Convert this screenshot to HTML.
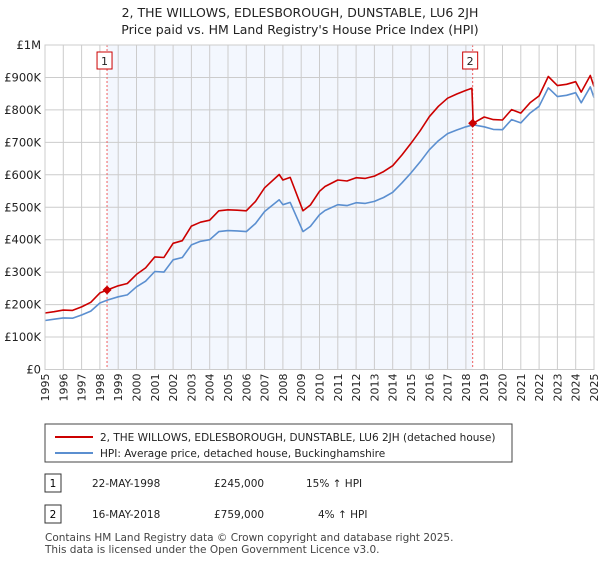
<!DOCTYPE html>
<html><head><meta charset="utf-8"><style>
body{margin:0;background:#fff;font-family:"Liberation Sans","DejaVu Sans",sans-serif;}
svg text{font-family:"DejaVu Sans","Liberation Sans",sans-serif;}
</style></head><body>
<svg width="600" height="560" viewBox="0 0 600 560">
<text x="300" y="17" text-anchor="middle" font-size="12.5" fill="#222">2, THE WILLOWS, EDLESBOROUGH, DUNSTABLE, LU6 2JH</text>
<text x="300" y="34" text-anchor="middle" font-size="12.5" fill="#222">Price paid vs. HM Land Registry's House Price Index (HPI)</text>
<g id="plot"></g>
<rect x="45" y="424" width="467" height="38" fill="#fff" stroke="#444"/>
<line x1="55" y1="437" x2="93" y2="437" stroke="#cc0000" stroke-width="2"/>
<text x="100" y="441" font-size="10.5" fill="#222">2, THE WILLOWS, EDLESBOROUGH, DUNSTABLE, LU6 2JH (detached house)</text>
<line x1="55" y1="453" x2="93" y2="453" stroke="#5b8fd0" stroke-width="2"/>
<text x="100" y="457" font-size="10.5" fill="#222">HPI: Average price, detached house, Buckinghamshire</text>
<rect x="45" y="474" width="16" height="18" fill="#fff" stroke="#333"/>
<text x="53" y="487" text-anchor="middle" font-size="10.5">1</text>
<text x="92" y="487" font-size="10.5" fill="#222">22-MAY-1998</text>
<text x="214" y="487" font-size="10.5" fill="#222">£245,000</text>
<text x="306" y="487" font-size="10.5" fill="#222">15% ↑ HPI</text>
<rect x="45" y="505" width="16" height="18" fill="#fff" stroke="#333"/>
<text x="53" y="518" text-anchor="middle" font-size="10.5">2</text>
<text x="92" y="518" font-size="10.5" fill="#222">16-MAY-2018</text>
<text x="214" y="518" font-size="10.5" fill="#222">£759,000</text>
<text x="318" y="518" font-size="10.5" fill="#222">4% ↑ HPI</text>
<text x="45" y="541" font-size="10.5" fill="#444">Contains HM Land Registry data © Crown copyright and database right 2025.</text>
<text x="45" y="553" font-size="10.5" fill="#444">This data is licensed under the Open Government Licence v3.0.</text>
</svg>
<script>
const hpiYears=[1995,1995.5,1996,1996.5,1997,1997.5,1998,1998.4,1999,1999.5,2000,2000.5,2001,2001.5,2002,2002.5,2003,2003.5,2004,2004.5,2005,2005.5,2006,2006.5,2007,2007.8,2008,2008.4,2009.1,2009.5,2010,2010.3,2011,2011.5,2012,2012.5,2013,2013.5,2014,2014.5,2015,2015.5,2016,2016.5,2017,2017.5,2018,2018.4,2019,2019.5,2020,2020.5,2021,2021.5,2022,2022.5,2023,2023.5,2024,2024.3,2024.8,2025];
const hpiValues=[151,155,159,158,168,180,205,214,224,230,255,272,302,300,338,345,384,395,400,425,428,427,425,450,487,523,508,515,425,441,477,490,508,505,514,512,518,530,546,575,606,640,677,705,727,738,748,754,748,740,739,770,760,790,811,868,841,845,853,822,871,838];
const redYears=[1995,1995.5,1996,1996.5,1997,1997.5,1998,1998.4,1999,1999.5,2000,2000.5,2001,2001.5,2002,2002.5,2003,2003.5,2004,2004.5,2005,2005.5,2006,2006.5,2007,2007.8,2008,2008.4,2009.1,2009.5,2010,2010.3,2011,2011.5,2012,2012.5,2013,2013.5,2014,2014.5,2015,2015.5,2016,2016.5,2017,2017.5,2018,2018.33,2018.4,2019,2019.5,2020,2020.5,2021,2021.5,2022,2022.5,2023,2023.5,2024,2024.3,2024.8,2025];
const redValues=[174,178,183,182,193,207,236,245,258,265,293,313,347,345,389,397,442,454,460,489,492,491,489,518,560,601,584,592,489,507,549,564,584,581,591,589,596,610,628,661,697,736,779,811,836,849,860,867,759,778,770,769,801,790,822,843,903,875,879,887,855,906,872];
const saleYears=[1998.39,2018.37];
const saleValues=[245,759];
const saleLabels=["1","2"];
const yTicks=[0,100,200,300,400,500,600,700,800,900,1000];
const yTickLabels=["£0","£100K","£200K","£300K","£400K","£500K","£600K","£700K","£800K","£900K","£1M"];
const xTicks=[1995,1996,1997,1998,1999,2000,2001,2002,2003,2004,2005,2006,2007,2008,2009,2010,2011,2012,2013,2014,2015,2016,2017,2018,2019,2020,2021,2022,2023,2024,2025];

const X0=45,X1=594,Y0=369.5,Y1=45;
const xs=y=>X0+(y-1995)/30*(X1-X0);
const ys=v=>Y0-v/1000*(Y0-Y1);
const NS="http://www.w3.org/2000/svg";
const g=document.getElementById('plot');
function mk(t,a){const e=document.createElementNS(NS,t);for(const k in a)e.setAttribute(k,a[k]);g.appendChild(e);return e;}
let e=mk('rect',{x:xs(saleYears[0]),y:Y1,width:xs(saleYears[1])-xs(saleYears[0]),height:Y0-Y1,fill:'#f3f7fe'});


yTicks.forEach((t,i)=>{
 const l=mk('line',{x1:X0,x2:X1,y1:ys(t),y2:ys(t),stroke:'#ccc','stroke-width':1});
 
 
 const tx=mk('text',{x:X0-4,y:ys(t)+4,'text-anchor':'end','font-size':'11.5',fill:'#222'});
 tx.textContent=yTickLabels[i];
 
 
});
xTicks.forEach(t=>{
 const l=mk('line',{x1:xs(t),x2:xs(t),y1:Y1,y2:Y0,stroke:'#ccc','stroke-width':1});
 
 
 const px=xs(t)+4, py=Y0+4;
 const tx=mk('text',{x:px,y:py,'text-anchor':'end','font-size':'11',fill:'#222',transform:'rotate(-90 '+px+' '+py+')'});
 tx.textContent=t;
 
 
});
saleYears.forEach((s,i)=>{
 const l=mk('line',{x1:xs(s),x2:xs(s),y1:Y1,y2:Y0,stroke:'#f06060','stroke-dasharray':'2,2','stroke-width':1});
 
 
 const r=mk('rect',{x:xs(s)-10,y:52,width:15,height:17,fill:'#fff',stroke:'#cc0000'});
 
 
 const tx=mk('text',{x:xs(s)-2.5,y:65,'text-anchor':'middle','font-size':'11',fill:'#222'});
 tx.textContent=saleLabels[i];
 
 
});
function line(xa,va,c,n){
 const d=xa.map((x,i)=>(i?'L':'M')+xs(x).toFixed(1)+','+ys(va[i]).toFixed(1)).join('');
 const p=mk('path',{d:d,fill:'none',stroke:c,'stroke-width':1.6,'stroke-linejoin':'round'});
 
 
}
line(hpiYears,hpiValues,'#5b8fd0','hpi-line');
line(redYears,redValues,'#cc0000','property-line');
saleYears.forEach((s,i)=>{
 const cx=xs(s), cy=ys(saleValues[i]);
 const c=mk('path',{d:'M'+cx+','+(cy-4.5)+'L'+(cx+4.5)+','+cy+'L'+cx+','+(cy+4.5)+'L'+(cx-4.5)+','+cy+'Z',fill:'#cc0000'});
 
 
});
const ax=mk('rect',{x:X0,y:Y1,width:X1-X0,height:Y0-Y1,fill:'none',stroke:'#ccc'});


</script>
</body></html>
